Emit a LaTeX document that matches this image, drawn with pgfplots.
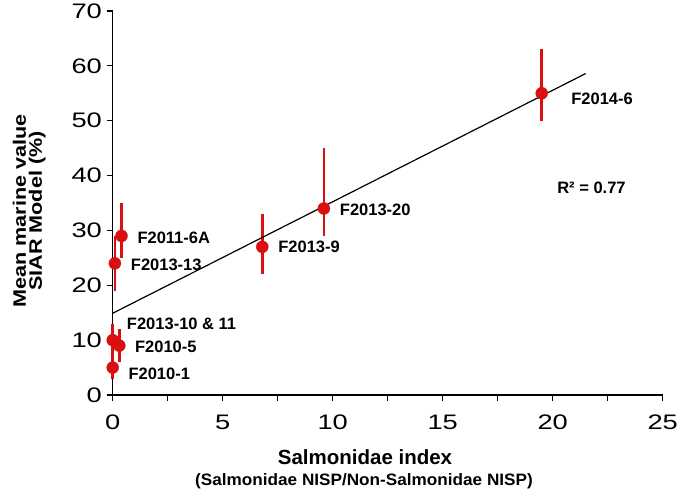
\documentclass[border=0pt]{standalone}
\usepackage{pgfplots}
\pgfplotsset{compat=1.18}
\usetikzlibrary{calc}
\usepackage{fontspec}
\usepackage{graphicx}
\setmainfont{Liberation Sans}
\definecolor{dred}{RGB}{218,16,16}
\pgfplotstableread{
x y ep em
0.0 5 2 2
0.0 10 3 3
0.3 9 3 3
0.1 24 5 5
0.4 29 6 4
6.8 27 6 5
9.6 34 11 5
19.5 55 8 5
}\pts
\begin{document}
\begin{tikzpicture}
\begin{axis}[
 scale only axis, width=550pt, height=384pt,
 xmin=0, xmax=25, ymin=0, ymax=70,
 xtick={0,5,...,25}, minor xtick={2.5,7.5,...,22.5},
 ytick={0,10,...,70},
 axis x line*=bottom, axis y line*=left,
 axis line style={-, line width=1.2pt},
 tick align=outside,
 tick style={black, line width=1.2pt},
 major tick length=6pt, minor tick length=6pt,
 ticklabel style={font=\fontsize{21}{24}\selectfont, xscale=1.3},
 xticklabel style={inner sep=0pt, yshift=-14pt},
 yticklabel style={inner sep=3.5pt},
 /pgf/number format/assume math mode=true,
 clip=false,
]
\addplot[only marks, mark=*, mark size=6pt, color=dred, mark options={fill=dred, draw=dred},
  error bars/.cd, y dir=both, y explicit, error mark=none,
  error bar style={line width=2.5pt, dred}]
  table[x=x, y=y, y error plus=ep, y error minus=em] {\pts};
\addplot[black, line width=1.2pt] coordinates {(0,14.9) (21.5,58.6)};
\begin{scope}[every node/.style={anchor=west, font=\fontsize{16.5}{18}\selectfont\bfseries, inner sep=0pt}]
\node at (axis cs:20.84,53.9) {F2014-6};
\node at (axis cs:10.32,33.8) {F2013-20};
\node at (axis cs:7.52,27.0) {F2013-9};
\node at (axis cs:1.12,28.7) {F2011-6A};
\node at (axis cs:0.82,23.7) {F2013-13};
\node at (axis cs:0.64,12.9) {F2013-10 \& 11};
\node at (axis cs:1.01,8.8) {F2010-5};
\node at (axis cs:0.71,3.8) {F2010-1};
\node at (axis cs:20.2,37.7) {R² = 0.77};
\end{scope}
\coordinate (ll) at (rel axis cs:0,0);
\end{axis}
% axis titles
\node[anchor=base, inner sep=0pt, font=\fontsize{20.5}{24}\selectfont\bfseries]
  at ($(ll)+(252.3pt,-69.7pt)$) {Salmonidae index};
\node[anchor=base, inner sep=0pt, font=\fontsize{16.5}{18}\selectfont\bfseries]
  at ($(ll)+(251.3pt,-90.3pt)$) {\scalebox{1.04}[1]{(Salmonidae NISP/Non-Salmonidae NISP)}};
\node[anchor=base, rotate=90, inner sep=0pt, font=\fontsize{18}{20}\selectfont\bfseries]
  at ($(ll)+(-86.7pt,184pt)$) {\scalebox{1.2}[1]{Mean marine value}};
\node[anchor=base, rotate=90, inner sep=0pt, font=\fontsize{18}{20}\selectfont\bfseries]
  at ($(ll)+(-70.7pt,184pt)$) {\scalebox{1.2}[1]{SIAR Model (\%)}};
\pgfresetboundingbox
\path[use as bounding box] (ll) ++(-112.7pt,-97pt) rectangle ++(677pt,492pt);
\end{tikzpicture}
\end{document}
